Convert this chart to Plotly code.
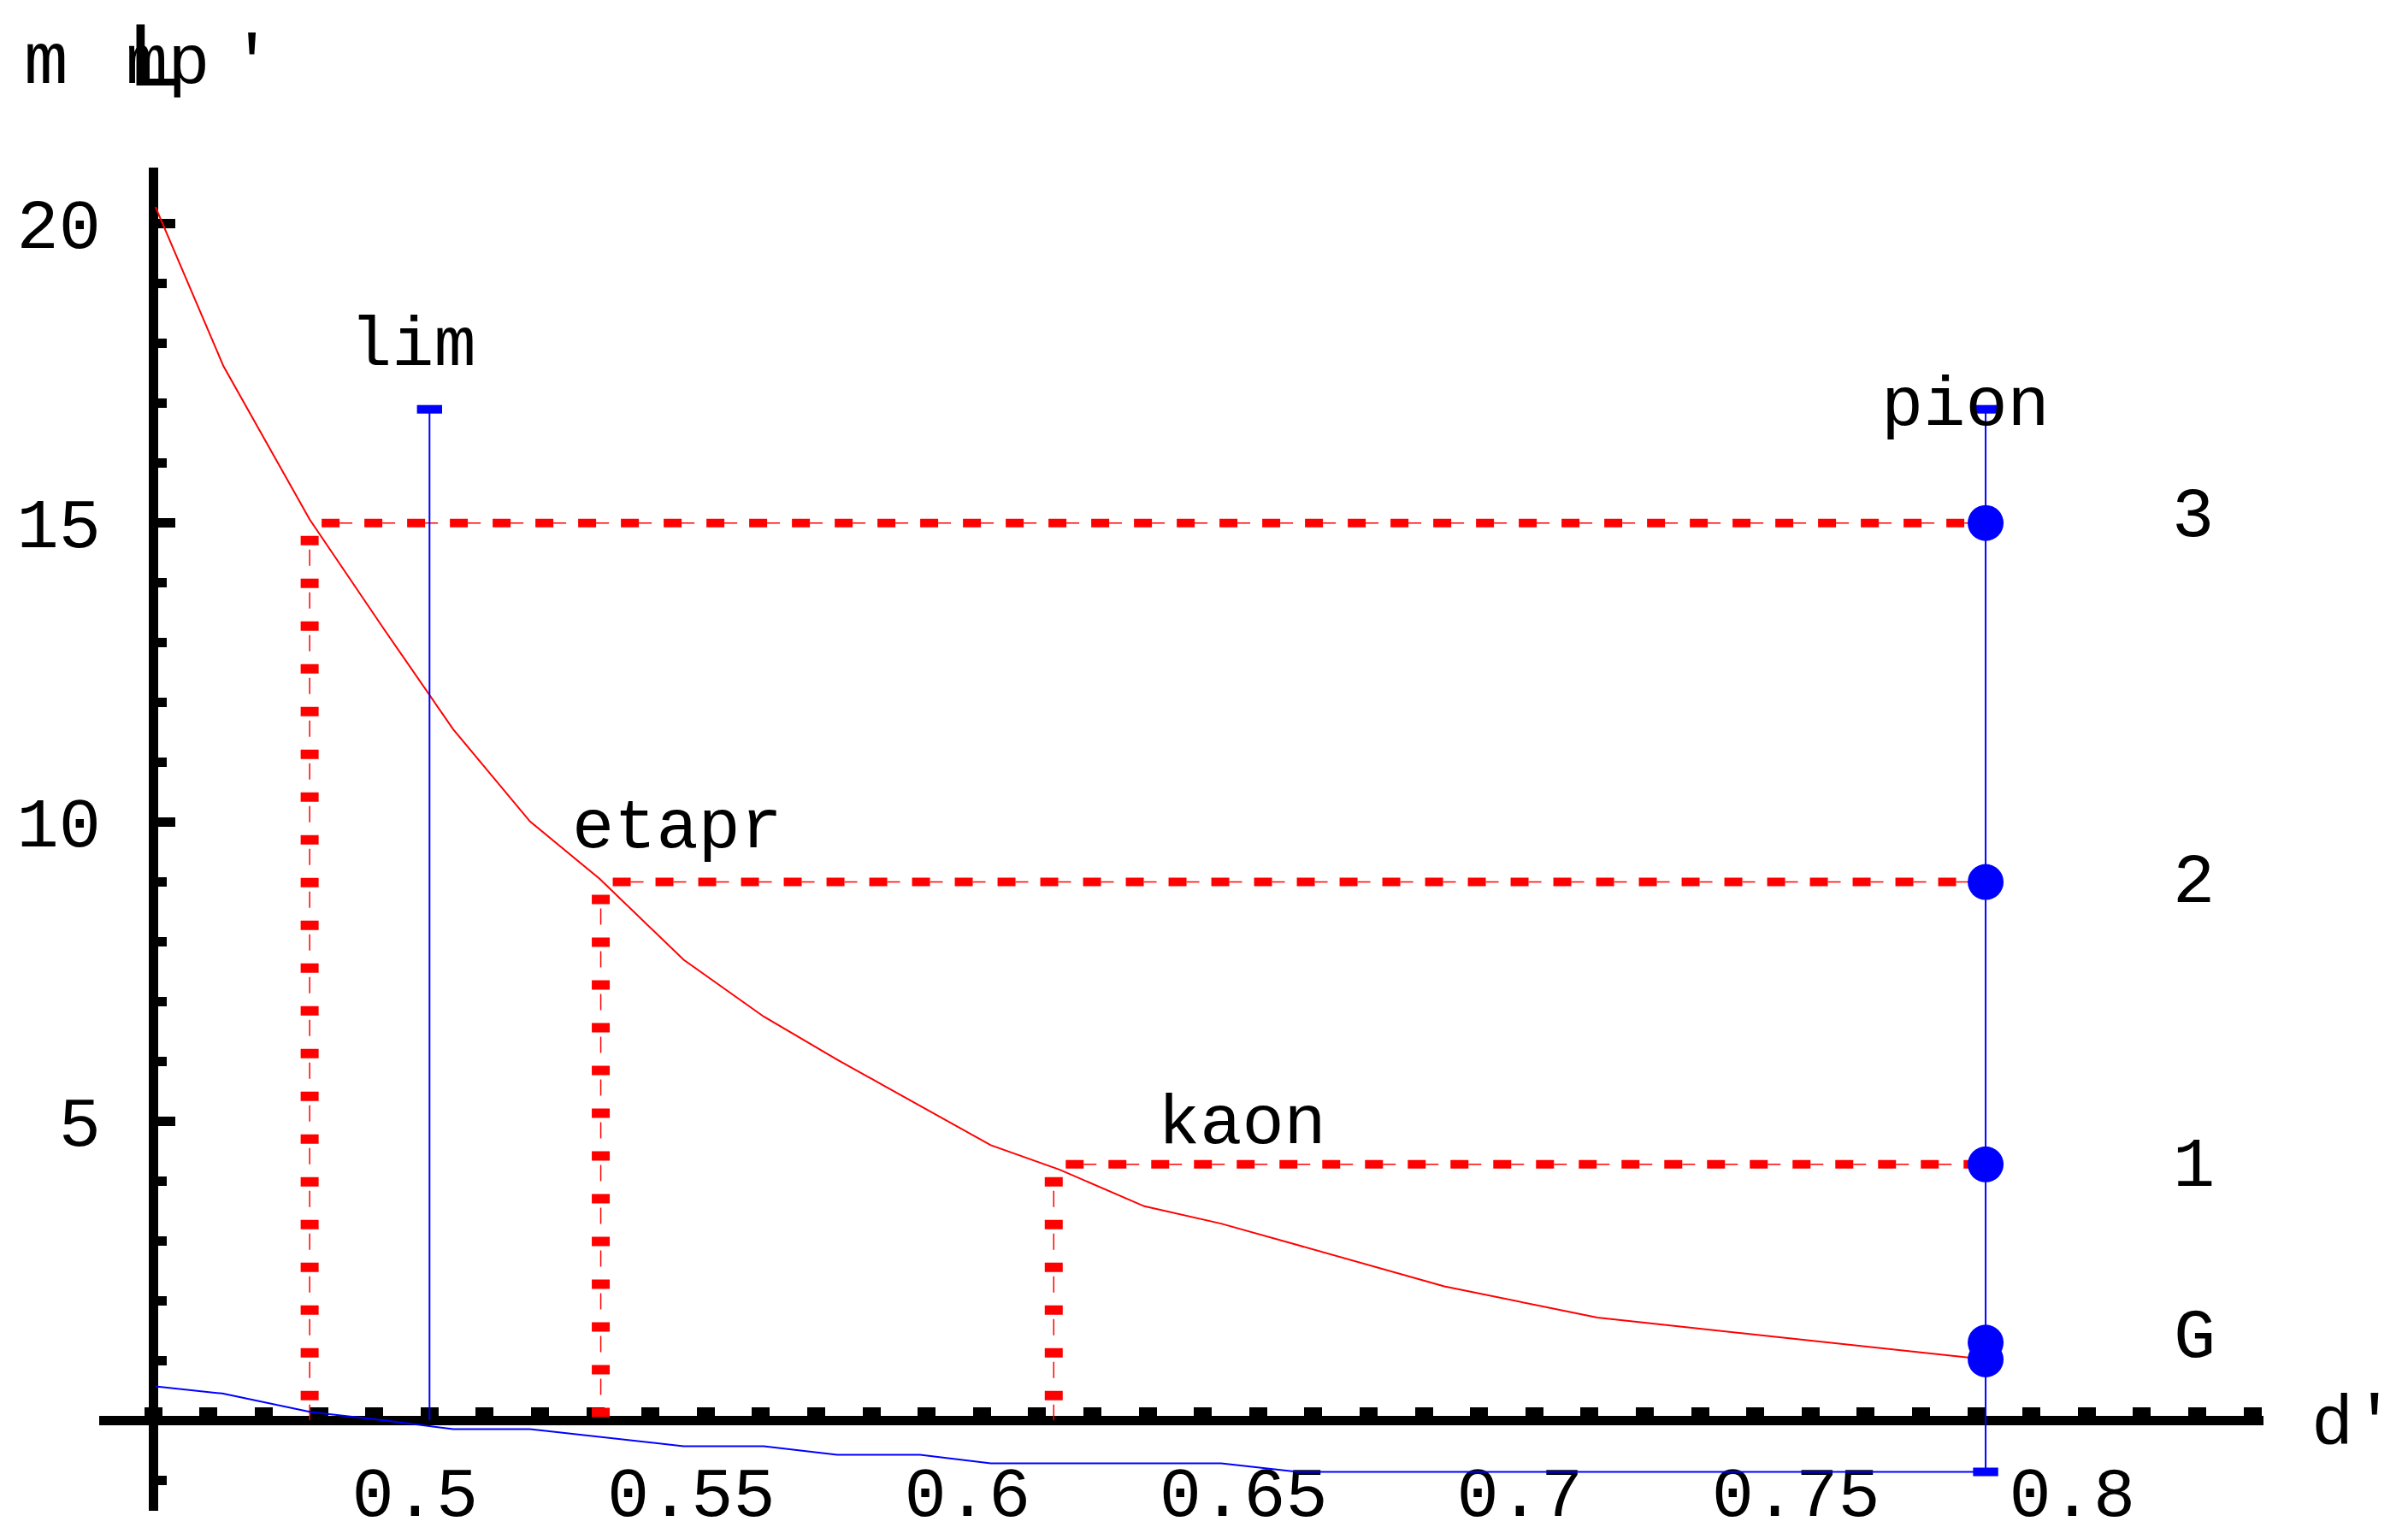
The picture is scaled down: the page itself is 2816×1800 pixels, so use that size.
import plotly.graph_objects as go

# ---------------- data ----------------
red_x = [0.4504, 0.4627, 0.4783, 0.4918, 0.5043, 0.5182, 0.5307, 0.5460, 0.5605,
         0.5738, 0.6016, 0.6141, 0.6294, 0.6433, 0.6572, 0.6837, 0.7114, 0.7817]
red_y = [20.28, 17.62, 15.06, 13.22, 11.55, 10.01, 9.06, 7.70, 6.75,
         6.03, 4.60, 4.19, 3.58, 3.29, 2.93, 2.24, 1.72, 1.02]

blue_x = [0.4504, 0.4625, 0.4785, 0.4918, 0.5043, 0.5182, 0.5460, 0.5605,
          0.5738, 0.5888, 0.6016, 0.6433, 0.6572, 0.7817]
blue_y = [0.57, 0.45, 0.14, 0.0, -0.146, -0.146, -0.43, -0.43,
          -0.574, -0.574, -0.717, -0.717, -0.86, -0.86]

level_labels = ["3", "2", "1"]
level_y = [15.0, 9.0, 4.28]
level_x = [0.4783, 0.5310, 0.6130]
ground_y = [1.30, 1.02]
ground_label = "G"

lim_x = 0.5
pion_x = 0.7817
line_top = 16.9
pion_bottom = -0.86

x_tickvals = [0.5, 0.55, 0.6, 0.65, 0.7, 0.75, 0.8]
x_ticktext = ["0.5", "0.55", "0.6", "0.65", "0.7", "0.75", "0.8"]
y_tickvals = [5, 10, 15, 20]
y_ticktext = ["5", "10", "15", "20"]

x_range = [0.4402, 0.8320]
y_range = [-1.51, 20.94]
x_origin = 0.45
y_origin = 0.0

RED = "#ff0000"
BLUE = "#0000ff"
MONO = "Liberation Mono"

# ---------------- figure ----------------
fig = go.Figure()

# dashed red guide lines (thick dash + thin dash, Mathematica-like)
for lx, ly in zip(level_x, level_y):
    fig.add_trace(go.Scatter(x=[lx, pion_x], y=[ly, ly], mode="lines",
                             line=dict(color=RED, width=1.5, dash="0px,35px,15px,0px"),
                             hoverinfo="skip", showlegend=False))
    fig.add_trace(go.Scatter(x=[lx, pion_x], y=[ly, ly], mode="lines",
                             line=dict(color=RED, width=10, dash="0px,14px,21px,15px"),
                             hoverinfo="skip", showlegend=False))
    fig.add_trace(go.Scatter(x=[lx, lx], y=[ly, y_origin], mode="lines",
                             line=dict(color=RED, width=1.5, dash="0px,31px,19px,0px"),
                             hoverinfo="skip", showlegend=False))
    fig.add_trace(go.Scatter(x=[lx, lx], y=[ly, y_origin], mode="lines",
                             line=dict(color=RED, width=21, dash="0px,15px,11px,24px"),
                             hoverinfo="skip", showlegend=False))

# red curve
fig.add_trace(go.Scatter(x=red_x, y=red_y, mode="lines",
                         line=dict(color=RED, width=2), showlegend=False))
# blue curve
fig.add_trace(go.Scatter(x=blue_x, y=blue_y, mode="lines",
                         line=dict(color=BLUE, width=2), showlegend=False))

# lim line
fig.add_trace(go.Scatter(x=[lim_x, lim_x], y=[y_origin, line_top], mode="lines",
                         line=dict(color=BLUE, width=2), showlegend=False))
fig.add_trace(go.Scatter(x=[lim_x], y=[line_top], mode="markers",
                         marker=dict(symbol="line-ew", size=21,
                                     line=dict(color=BLUE, width=10)),
                         showlegend=False))
# pion line
fig.add_trace(go.Scatter(x=[pion_x, pion_x], y=[pion_bottom, line_top], mode="lines",
                         line=dict(color=BLUE, width=2), showlegend=False))
fig.add_trace(go.Scatter(x=[pion_x, pion_x], y=[pion_bottom, line_top], mode="markers",
                         marker=dict(symbol="line-ew", size=21,
                                     line=dict(color=BLUE, width=10)),
                         showlegend=False))

# state dots
dot_y = level_y + ground_y
fig.add_trace(go.Scatter(x=[pion_x] * len(dot_y), y=dot_y, mode="markers",
                         marker=dict(symbol="circle", size=42, color=BLUE,
                                     line=dict(width=0)),
                         showlegend=False, cliponaxis=False))

# ---------------- layout ----------------
L, R, T, B = 116, 169, 196, 33
FW, FH = 2816, 1800
PW, PH = FW - L - R, FH - T - B


def paper(px, py):
    return (px - L) / PW, (FH - B - py) / PH


xpos = (y_origin - y_range[0]) / (y_range[1] - y_range[0])
ypos = (x_origin - x_range[0]) / (x_range[1] - x_range[0])

fig.update_layout(
    width=FW, height=FH, autosize=False,
    margin=dict(l=L, r=R, t=T, b=B, pad=0),
    paper_bgcolor="white", plot_bgcolor="white",
    template="none",
    showlegend=False,
    xaxis=dict(range=x_range, anchor="free", position=xpos, side="bottom",
               showgrid=False, zeroline=False, showline=True, linecolor="black",
               linewidth=11, layer="below traces",
               tickmode="array", tickvals=x_tickvals, ticktext=x_ticktext,
               ticks="inside", ticklen=10, tickwidth=21, tickcolor="black",
               minor=dict(dtick=0.01, tick0=0, ticks="inside", ticklen=10,
                          tickwidth=21, tickcolor="black", showgrid=False),
               tickfont=dict(family=MONO, size=82, color="black"),
               ticklabelstandoff=7, ticklabelshift=-17, automargin=False),
    yaxis=dict(range=y_range, anchor="free", position=ypos, side="left",
               showgrid=False, zeroline=False, showline=True, linecolor="black",
               linewidth=11, layer="below traces",
               tickmode="array", tickvals=y_tickvals, ticktext=y_ticktext,
               ticks="inside", ticklen=20, tickwidth=11, tickcolor="black",
               minor=dict(dtick=1, tick0=0, ticks="inside", ticklen=10,
                          tickwidth=11, tickcolor="black", showgrid=False),
               tickfont=dict(family=MONO, size=82, color="black"),
               ticklabelstandoff=40, automargin=False),
)

# text labels: (text, centre x px, baseline px, font family, size)
labels = [
    ("lim", 483, 427, MONO, 82),
    ("etapr", 792, 991, MONO, 82),
    ("kaon", 1452, 1337, MONO, 82),
    ("pion", 2298, 497, MONO, 82),
    (level_labels[0], 2564, 627, MONO, 82),
    (level_labels[1], 2565, 1055, MONO, 82),
    (level_labels[2], 2565, 1387, MONO, 82),
    (ground_label, 2566, 1587, MONO, 82),
    ("d'", 2752, 1688, MONO, 82),
    ("m", 54, 97, MONO, 86),
    ("mp", 196, 97, MONO, 82),
    ("'", 294, 97, MONO, 82),
]
for text, cx, base, fam, size in labels:
    ax, ay = paper(cx, base - 0.265 * size)
    fig.add_annotation(text=text, x=ax, y=ay, xref="paper", yref="paper",
                       xanchor="center", yanchor="middle", showarrow=False,
                       font=dict(family=fam, size=size, color="black"))

# odd bracket glyph in the axis label
LSIZE = 104
ax, ay = paper(180, 100 - 0.3465 * LSIZE)
fig.add_annotation(text="L", x=ax, y=ay, xref="paper", yref="paper",
                   xanchor="center", yanchor="middle", showarrow=False,
                   font=dict(family="Liberation Sans", size=LSIZE, color="black"))

fig.write_html("out.html",
               config={"displayModeBar": False},
               post_script="document.body.style.margin='0px';")
